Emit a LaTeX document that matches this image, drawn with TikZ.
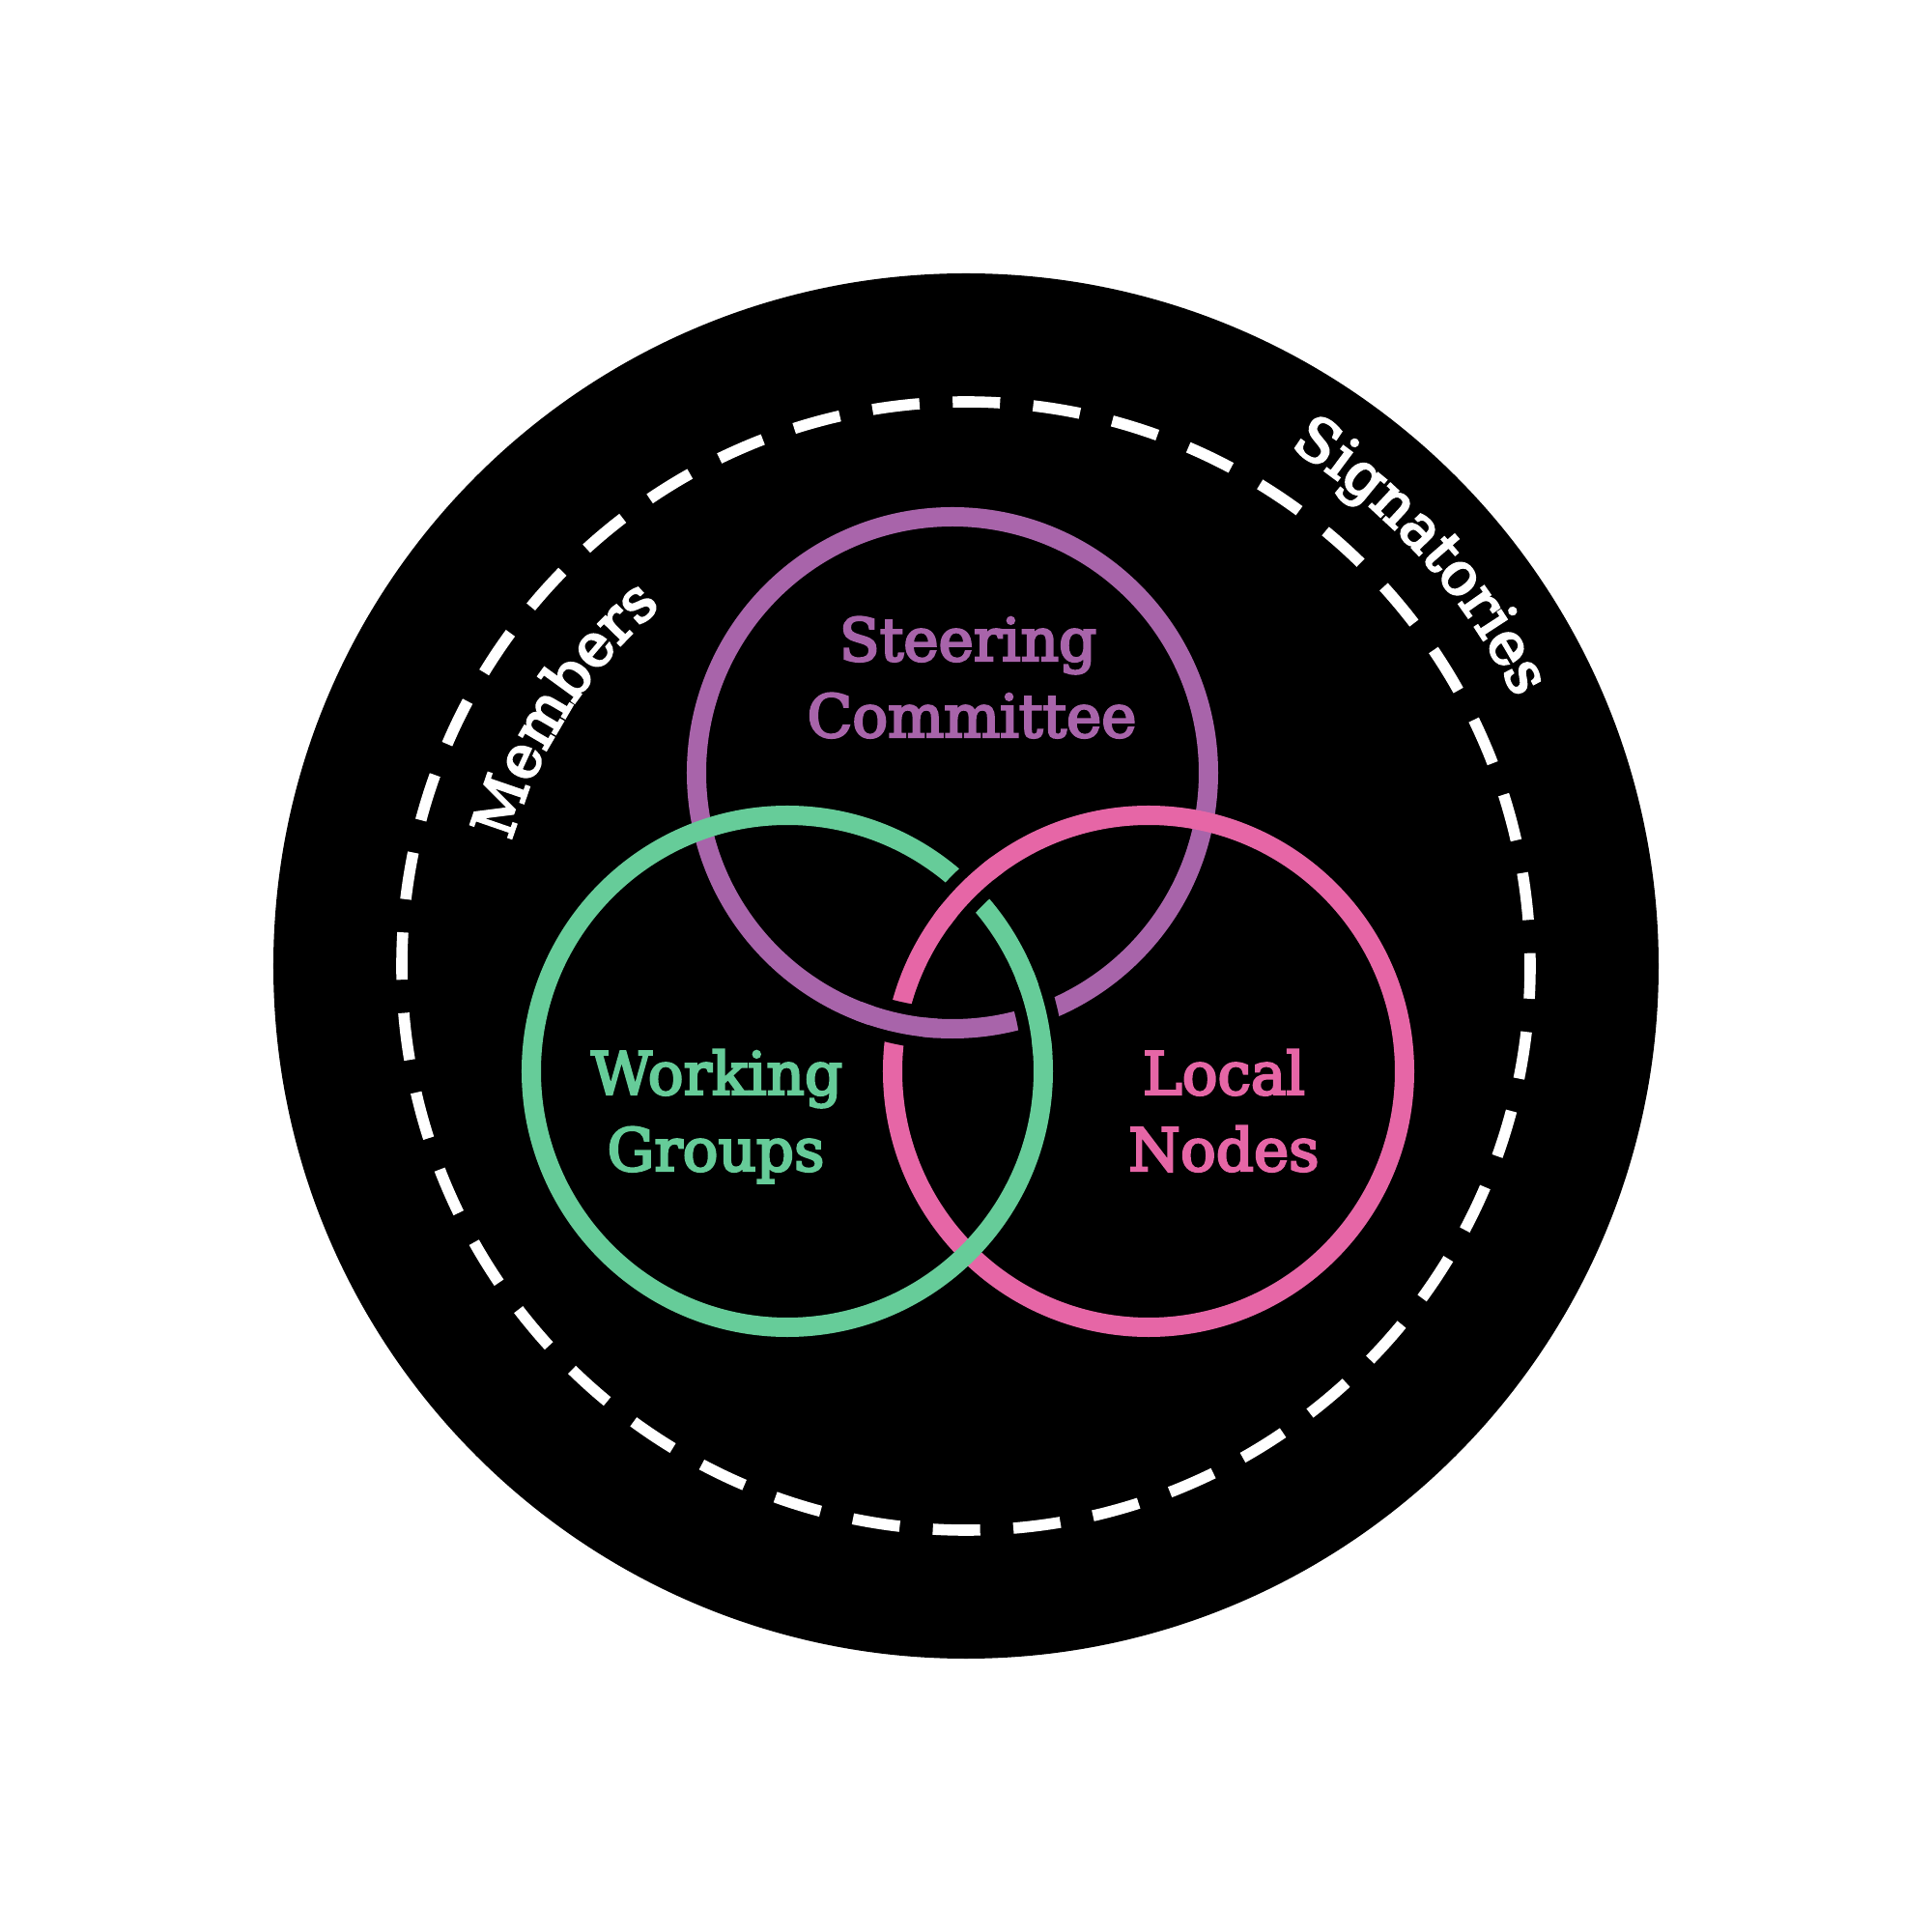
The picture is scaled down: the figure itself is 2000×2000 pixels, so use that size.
\documentclass[tikz,border=0pt]{standalone}
\usepackage{fontspec}
\newfontfamily\labfont[FakeBold=4]{DejaVu Serif}
\usetikzlibrary{decorations.text}
\definecolor{scpurple}{RGB}{168,100,170}
\definecolor{wggreen}{RGB}{102,204,153}
\definecolor{lnpink}{RGB}{230,102,166}
\newcommand{\curvefmt}{\color{white}\labfont\fontsize{17.4pt}{21pt}\selectfont}
\tikzset{
  ring/.style={line width=5.69pt},
  gapcut/.style={draw=black, line width=12.5pt},
  lab/.style={font=\labfont\fontsize{17.4pt}{21pt}\selectfont, inner sep=0pt, anchor=base},
  dashring/.style={draw=white, line width=3.3pt, dash pattern=on 0.49cm off 0.344cm, dash phase=0.357cm}
}
\begin{document}
\begin{tikzpicture}[x=0.01cm,y=0.01cm]
\useasboundingbox (-1000,-1000) rectangle (1000,1000);
\fill[white] (-1000,-1000) rectangle (1000,1000);
\coordinate (oc) at (0,0);
\coordinate (pc) at (-14,200);
\coordinate (gc) at (-185,-109);
\coordinate (kc) at (189,-109);
\fill[black] (oc) circle[radius=717];
\draw[dashring] (oc) circle[radius=584];
% three rings
\draw[ring, scpurple] (pc) circle[radius=265];
\draw[ring, lnpink] (kc) circle[radius=265];
\draw[ring, wggreen] (gc) circle[radius=265];
% over-crossings with gaps (black cut, then the over strand)
\draw[gapcut] ([shift={(129:265)}]kc) arc[start angle=129, end angle=141, radius=265];
\draw[ring, lnpink] ([shift={(126:265)}]kc) arc[start angle=126, end angle=144, radius=265];
\draw[gapcut] ([shift={(7:265)}]gc) arc[start angle=7, end angle=19, radius=265];
\draw[ring, wggreen] ([shift={(4:265)}]gc) arc[start angle=4, end angle=22, radius=265];
\draw[gapcut] ([shift={(251.5:265)}]pc) arc[start angle=251.5, end angle=263.5, radius=265];
\draw[ring, scpurple] ([shift={(248.5:265)}]pc) arc[start angle=248.5, end angle=266.5, radius=265];
% labels
\node[lab, text=scpurple] (st) at (2,316) {Steering};
\node[lab, text=scpurple] (co) at (6,237) {Committee};
\node[lab, text=wggreen] (wo) at (-258,-133) {Working};
\node[lab, text=wggreen] (gr) at (-259,-212) {Groups};
\node[lab, text=lnpink] (lo) at (267,-133) {Local};
\node[lab, text=lnpink] (no) at (267,-212) {Nodes};
% curved texts
\path[decorate, decoration={text along path, text align=center, text={|\curvefmt|Members}}]
  (175:488) arc[start angle=175, end angle=120, radius=488];
\path[decorate, decoration={text along path, text align=center, text={|\curvefmt|Signatories}}]
  (70:633) arc[start angle=70, end angle=14, radius=633];
\end{tikzpicture}
\end{document}
